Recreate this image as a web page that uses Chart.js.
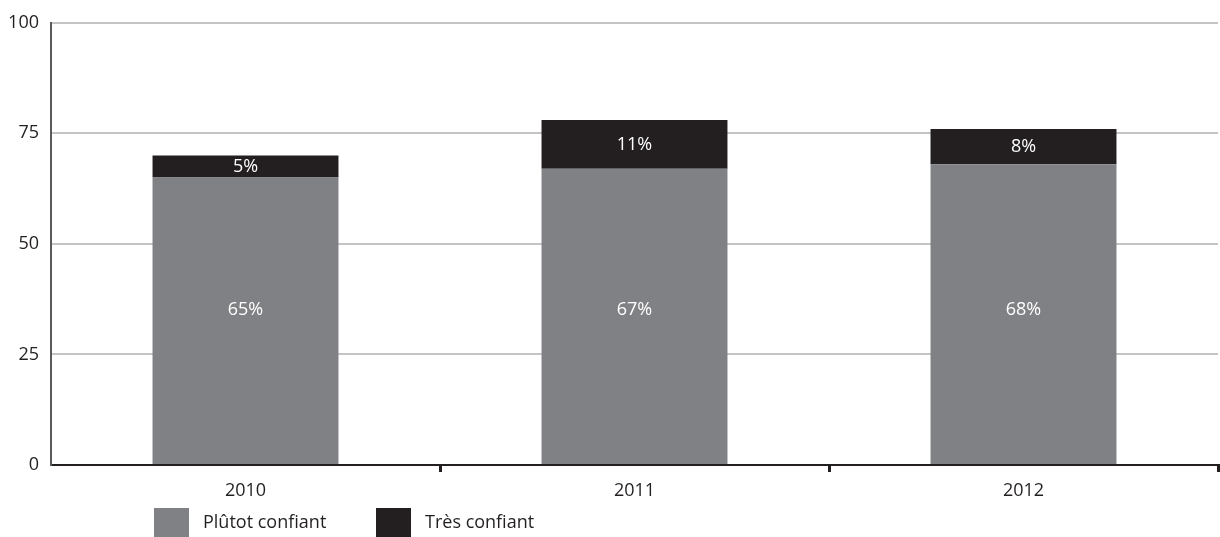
<!DOCTYPE html>
<html>
<head>
<meta charset="utf-8">
<script src="https://cdn.jsdelivr.net/npm/chart.js@4/dist/chart.umd.min.js"></script>
<style>
  html, body { margin: 0; padding: 0; background: #fff; }
  #wrap { width: 1220px; height: 537px; position: relative; }
</style>
</head>
<body>
<div id="wrap"><canvas id="grafico"></canvas></div>
<script>
// Données
const annees = ['2010', '2011', '2012'];
const plutotConfiant = [65, 67, 68];
const tresConfiant = [5, 11, 8];
const ticksY = [0, 25, 50, 75, 100];

const GRIS = '#808184';
const NOIR = '#231f20';
const POLICE = '"Open Sans", Lato, sans-serif';
const TAILLE = 18;

// Étiquettes en pourcentage dans les barres + légende dessinée à la main
const etiquettesPlugin = {
    id: 'etiquettes',
    afterDatasetsDraw(chart) {
        const { ctx, scales: { y } } = chart;
        ctx.save();
        ctx.fillStyle = '#fff';
        ctx.font = TAILLE + 'px ' + POLICE;
        ctx.textAlign = 'center';
        ctx.textBaseline = 'middle';
        chart.data.datasets.forEach((ds, i) => {
            chart.getDatasetMeta(i).data.forEach((bar, j) => {
                const yPos = i === 0 ? y.getPixelForValue(35) : (bar.y + bar.base) / 2;
                ctx.fillText(ds.data[j] + '%', bar.x, yPos);
            });
        });
        ctx.restore();
    },
    afterDraw(chart) {
        const { ctx } = chart;
        const items = [
            { texte: chart.data.datasets[0].label, couleur: GRIS, x: 154 },
            { texte: chart.data.datasets[1].label, couleur: NOIR, x: 376 }
        ];
        ctx.save();
        ctx.font = TAILLE + 'px ' + POLICE;
        ctx.textBaseline = 'middle';
        ctx.textAlign = 'left';
        items.forEach(it => {
            ctx.fillStyle = it.couleur;
            ctx.fillRect(it.x, 508, 35, 30);
            ctx.fillStyle = '#231f20';
            ctx.fillText(it.texte, it.x + 49, 523);
        });
        ctx.restore();
    }
};

new Chart(document.getElementById('grafico'), {
    type: 'bar',
    data: {
        labels: annees,
        datasets: [
            { label: 'Plûtot confiant', data: plutotConfiant, backgroundColor: GRIS },
            { label: 'Très confiant', data: tresConfiant, backgroundColor: NOIR }
        ]
    },
    options: {
        responsive: true,
        maintainAspectRatio: false,
        animation: false,
        layout: { padding: { top: 21, right: 2, left: 0, bottom: 0 } },
        datasets: { bar: { categoryPercentage: 1, barPercentage: 0.478 } },
        plugins: {
            legend: { display: false },
            tooltip: { enabled: false }
        },
        scales: {
            x: {
                stacked: true,
                afterFit: (scale) => { scale.height = 72; },
                grid: {
                    offset: true,
                    drawOnChartArea: false,
                    drawTicks: true,
                    tickLength: 7,
                    lineWidth: 3,
                    color: (c) => c.index === 0 ? 'rgba(0,0,0,0)' : NOIR
                },
                border: { color: NOIR, width: 2 },
                ticks: { color: '#231f20', font: { family: POLICE, size: TAILLE }, padding: 8 }
            },
            y: {
                stacked: true,
                min: 0,
                max: 100,
                afterFit: (scale) => { scale.width = 51; },
                afterBuildTicks: (scale) => { scale.ticks = ticksY.map(v => ({ value: v })); },
                grid: {
                    color: (c) => c.tick && c.tick.value === 0 ? 'rgba(0,0,0,0)' : '#c4c4c4',
                    lineWidth: 2,
                    drawTicks: false
                },
                border: { color: '#5a5a5a', width: 2 },
                ticks: { color: '#231f20', font: { family: POLICE, size: TAILLE }, padding: 12 }
            }
        }
    },
    plugins: [etiquettesPlugin]
});
</script>
</body>
</html>
